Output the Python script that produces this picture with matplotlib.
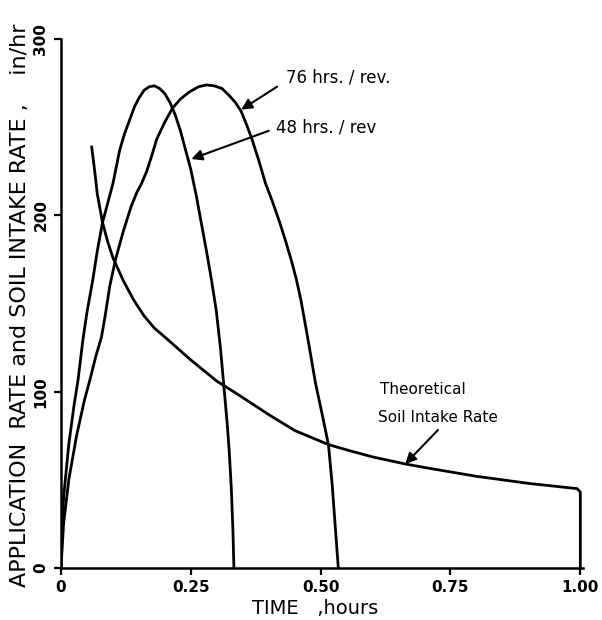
import matplotlib
matplotlib.use('Agg')
import matplotlib.pyplot as plt

# 48 hrs./rev application rate (narrow curve)
t48 = [0.0, 0.005, 0.015, 0.025, 0.033, 0.042, 0.050, 0.061, 0.070, 0.080, 0.090, 0.100,
       0.113, 0.122, 0.132, 0.142, 0.151, 0.160, 0.170, 0.180, 0.190, 0.200, 0.210,
       0.220, 0.230, 0.240, 0.250, 0.260, 0.270, 0.280, 0.290, 0.299, 0.307, 0.314,
       0.320, 0.324, 0.328, 0.331, 0.333]
r48 = [0, 40, 70, 92, 107, 129, 145, 163, 180, 196, 207, 218,
       237, 246, 254, 262, 267, 271, 273, 273.5, 272, 269, 264,
       257, 248, 237, 226, 212, 196, 180, 163, 146, 125, 102,
       82, 66, 45, 22, 0]

# 76 hrs./rev application rate (wide curve)
t76 = [0.0, 0.005, 0.015, 0.030, 0.045, 0.056, 0.067, 0.078, 0.085, 0.094, 0.105, 0.120,
       0.135, 0.146, 0.155, 0.165, 0.175, 0.184, 0.200, 0.215, 0.230, 0.247, 0.265,
       0.280, 0.295, 0.310, 0.324, 0.336, 0.347, 0.358, 0.368, 0.381, 0.394, 0.407,
       0.420, 0.432, 0.444, 0.453, 0.462, 0.476, 0.490, 0.503, 0.515, 0.522, 0.529, 0.534]
r76 = [0, 25, 50, 75, 95, 107, 120, 131, 143, 160, 175, 191,
       205, 213, 218, 225, 234, 243, 253, 261, 266, 270, 273,
       274, 273.5, 272, 268, 264, 259, 251, 243, 231, 218, 208,
       197, 186, 174, 164, 152, 129, 105, 87, 70, 48, 20, 0]

# theoretical soil intake rate
t_soil = [0.059, 0.065, 0.070, 0.080, 0.090, 0.100, 0.120, 0.140, 0.160, 0.180, 0.200,
          0.250, 0.300, 0.343, 0.400, 0.450, 0.515, 0.550, 0.600, 0.663, 0.700, 0.800,
          0.900, 0.994, 1.0, 1.0]
r_soil = [239, 225, 212, 196, 185, 176, 163, 152, 143, 136, 131,
          118, 106, 98, 87, 78, 70, 67, 63, 59, 57, 52,
          48, 45, 43, 0]

xticks = [0, 0.25, 0.50, 0.75, 1.00]
xticklabels = ['0', '0.25', '0.50', '0.75', '1.00']
yticks = [0, 100, 200, 300]
yticklabels = ['0', '100', '200', '300']

plt.rcParams['font.family'] = ['DejaVu Sans']

fig = plt.figure(figsize=(6.02, 6.2), dpi=100)
ax = fig.add_axes([0.1013, 0.0839, 0.867, 0.853])

lw = 2.0
for t, r in [(t48, r48), (t76, r76), (t_soil, r_soil)]:
    ax.plot(t, r, color='black', lw=lw, solid_capstyle='round', solid_joinstyle='round')

ax.set_xlim(0, 1.005)
ax.set_ylim(0, 300)
ax.spines['top'].set_visible(False)
ax.spines['right'].set_visible(False)
ax.spines['left'].set_linewidth(1.8)
ax.spines['bottom'].set_linewidth(1.8)

ax.set_xticks(xticks)
ax.set_xticklabels(xticklabels, fontsize=11, fontweight='bold')
ax.set_yticks(yticks)
ax.set_yticklabels(yticklabels, fontsize=11, fontweight='bold', rotation=90, va='center')
ax.tick_params(axis='both', direction='out', length=5, width=1.6, pad=4)

# annotations with arrows
arrow = dict(arrowstyle='-|>', color='black', lw=1.5, mutation_scale=16, shrinkA=0, shrinkB=0)
ax.annotate('', xy=(0.347, 260), xytext=(0.416, 273), arrowprops=arrow)
ax.text(0.433, 278.5, '76 hrs. / rev.', fontsize=12, va='center', ha='left')
ax.annotate('', xy=(0.251, 232), xytext=(0.40, 248), arrowprops=arrow)
ax.text(0.414, 249.6, '48 hrs. / rev', fontsize=12, va='center', ha='left')
ax.annotate('', xy=(0.663, 59), xytext=(0.726, 78.3), arrowprops=arrow)
ax.text(0.697, 101, 'Theoretical', fontsize=11, va='center', ha='center')
ax.text(0.726, 85.6, 'Soil Intake Rate', fontsize=11, va='center', ha='center')

fig.text(0.524, 0.019, 'TIME   ,hours', fontsize=14, ha='center', va='center')
fig.text(0.034, 0.508, 'APPLICATION  RATE and SOIL INTAKE RATE ,    in/hr',
         rotation=90, fontsize=16, ha='center', va='center')

plt.savefig('out.png', dpi=100)
plt.close()
